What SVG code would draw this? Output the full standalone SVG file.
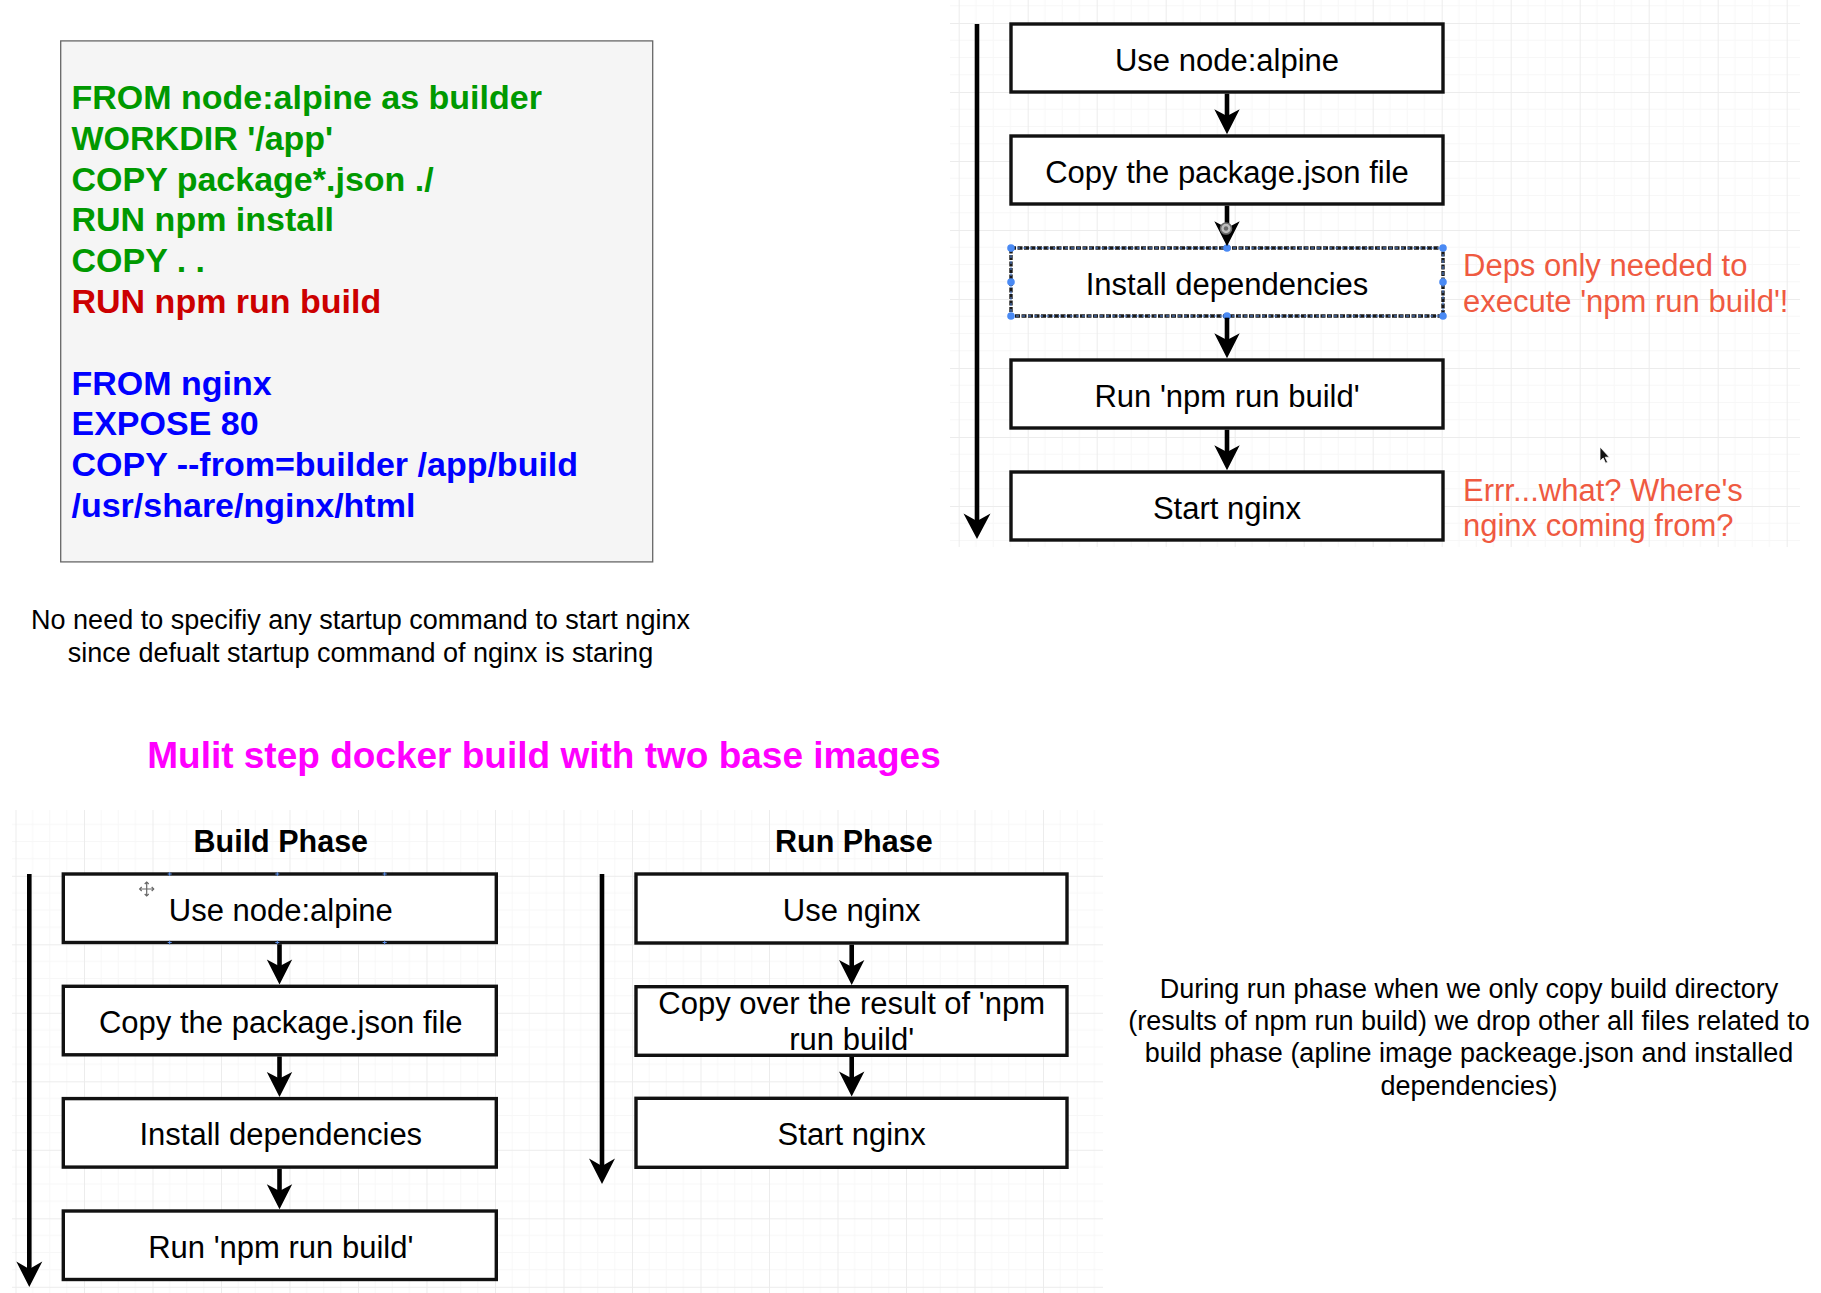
<svg xmlns="http://www.w3.org/2000/svg" width="1821" height="1293" viewBox="0 0 1821 1293">
<style>
  text { font-family: "Liberation Sans", Arial, Helvetica, sans-serif; }
  .code { font-size: 34px; font-weight: bold; }
  .g { fill: #009900; }
  .r { fill: #CC0000; }
  .b { fill: #0000FF; }
  .box { fill: #ffffff; stroke: #111111; stroke-width: 3.4; }
  .lbl { font-size: 31px; fill: #000000; text-anchor: middle; }
  .note { font-size: 31px; fill: #EF5A41; }
  .cap { font-size: 27px; fill: #000000; text-anchor: middle; }
  .phase { font-size: 30.5px; font-weight: bold; fill: #000000; text-anchor: middle; }
  .edge { stroke: #000000; stroke-width: 4.6; fill: none; }
  .tl { stroke: #000000; stroke-width: 4.6; fill: none; }
  .head { fill: #000000; stroke: none; }
  .handle { fill: #4A8AF4; stroke: none; }
  .pt { stroke: #5B8EE6; stroke-width: 1; }
</style>
<defs>
  <pattern id="gridA" patternUnits="userSpaceOnUse" x="61.7" y="23" width="69" height="69">
    <path d="M17.25 0V69M34.5 0V69M51.75 0V69M0 17.25H69M0 34.5H69M0 51.75H69" stroke="#f7f7f7" stroke-width="1"/>
    <path d="M0.5 0V69M0 0.5H69" stroke="#ececec" stroke-width="1"/>
  </pattern>
  <pattern id="gridB" patternUnits="userSpaceOnUse" x="15.5" y="53.8" width="68.5" height="68.5">
    <path d="M17.1 0V68.5M34.25 0V68.5M51.4 0V68.5M0 17.1H68.5M0 34.25H68.5M0 51.4H68.5" stroke="#f7f7f7" stroke-width="1"/>
    <path d="M0.5 0V68.5M0 0.5H68.5" stroke="#ececec" stroke-width="1"/>
  </pattern>
</defs>

<rect x="0" y="0" width="1821" height="1293" fill="#ffffff"/>
<rect id="grid-top" x="950" y="0" width="850" height="547" fill="url(#gridA)"/>
<rect id="grid-bottom" x="12" y="810" width="1091" height="483" fill="url(#gridB)"/>

<!-- Dockerfile code block -->
<g id="code-block">
  <rect x="60.7" y="40.9" width="592" height="521" fill="#f5f5f5" stroke="#666666" stroke-width="1.3"/>
  <text class="code g" x="71.5" y="109">FROM node:alpine as builder</text>
  <text class="code g" x="71.5" y="149.8">WORKDIR '/app'</text>
  <text class="code g" x="71.5" y="190.6">COPY package*.json ./</text>
  <text class="code g" x="71.5" y="231.4">RUN npm install</text>
  <text class="code g" x="71.5" y="272.2">COPY . .</text>
  <text class="code r" x="71.5" y="313">RUN npm run build</text>
  <text class="code b" x="71.5" y="394.6">FROM nginx</text>
  <text class="code b" x="71.5" y="435.4">EXPOSE 80</text>
  <text class="code b" x="71.5" y="476.2">COPY --from=builder /app/build</text>
  <text class="code b" x="71.5" y="517">/usr/share/nginx/html</text>
</g>

<g id="caption-startup">
  <text class="cap" x="360.5" y="629">No need to specifiy any startup command to start nginx</text>
  <text class="cap" x="360.5" y="662">since defualt startup command of nginx is staring</text>
</g>

<!-- Top-right flow -->
<g id="tr-node1"><rect class="box" x="1011" y="24" width="432" height="68"/><text class="lbl" x="1227" y="70.8">Use node:alpine</text></g>
<g id="tr-node2"><rect class="box" x="1011" y="136" width="432" height="68"/><text class="lbl" x="1227" y="182.8">Copy the package.json file</text></g>
<g id="tr-node3">
  <rect x="1011" y="248" width="432" height="68" fill="#ffffff" stroke="#1a1a1a" stroke-width="3.4" stroke-dasharray="5 1.5"/>
  <rect x="1011" y="248" width="432" height="68" fill="none" stroke="#5B8EE6" stroke-width="1" stroke-dasharray="3 3"/>
  <text class="lbl" x="1227" y="294.8">Install dependencies</text>
  <circle class="handle" cx="1011" cy="248" r="3.8"/><circle class="handle" cx="1227" cy="248" r="3.8"/><circle class="handle" cx="1443" cy="248" r="3.8"/>
  <circle class="handle" cx="1011" cy="282" r="3.8"/><circle class="handle" cx="1443" cy="282" r="3.8"/>
  <circle class="handle" cx="1011" cy="316" r="3.8"/><circle class="handle" cx="1227" cy="316" r="3.8"/><circle class="handle" cx="1443" cy="316" r="3.8"/>
</g>
<g id="tr-node4"><rect class="box" x="1011" y="360" width="432" height="68"/><text class="lbl" x="1227" y="406.8">Run 'npm run build'</text></g>
<g id="tr-node5"><rect class="box" x="1011" y="472" width="432" height="68"/><text class="lbl" x="1227" y="518.8">Start nginx</text></g>

<g id="tr-note1">
  <text class="note" x="1463" y="276">Deps only needed to</text>
  <text class="note" x="1463" y="311.7">execute 'npm run build'!</text>
</g>
<g id="tr-note2">
  <text class="note" x="1463" y="501">Errr...what? Where's</text>
  <text class="note" x="1463" y="536">nginx coming from?</text>
</g>

<!-- Title -->
<g id="title">
  <text x="544" y="768" font-size="37" font-weight="bold" fill="#FF00FF" text-anchor="middle">Mulit step docker build with two base images</text>
</g>

<!-- Build phase -->
<g id="build-phase-title"><text class="phase" x="280.8" y="852.3">Build Phase</text></g>
<g id="bp-node1">
  <rect class="box" x="63.3" y="874" width="433" height="68.5"/>
  <text class="lbl" x="280.8" y="920.7">Use node:alpine</text>
  <g class="pt">
    <path d="M169.7 872V876M171.7 874H167.7M277.3 872V876M279.3 874H275.3M384.7 872V876M386.7 874H382.7"/>
    <path d="M169.7 940.5V944.5M171.7 942.5H167.7M277.3 940.5V944.5M279.3 942.5H275.3M384.7 940.5V944.5M386.7 942.5H382.7"/>
  </g>
  <g stroke="#666" stroke-width="1.2" fill="none">
    <path d="M146.7 882V896M139.7 889H153.7"/>
    <path d="M144.7 884L146.7 882L148.7 884M144.7 894L146.7 896L148.7 894M141.7 887L139.7 889L141.7 891M151.7 887L153.7 889L151.7 891"/>
  </g>
</g>
<g id="bp-node2"><rect class="box" x="63.3" y="986.3" width="433" height="68.5"/><text class="lbl" x="280.8" y="1033">Copy the package.json file</text></g>
<g id="bp-node3"><rect class="box" x="63.3" y="1098.6" width="433" height="68.5"/><text class="lbl" x="280.8" y="1145.3">Install dependencies</text></g>
<g id="bp-node4"><rect class="box" x="63.3" y="1211" width="433" height="68.5"/><text class="lbl" x="280.8" y="1257.7">Run 'npm run build'</text></g>

<!-- Run phase -->
<g id="run-phase-title"><text class="phase" x="853.8" y="852.3">Run Phase</text></g>
<g id="rp-node1"><rect class="box" x="636" y="874" width="431" height="69"/><text class="lbl" x="851.7" y="920.8">Use nginx</text></g>
<g id="rp-node2"><rect class="box" x="636" y="986.7" width="431" height="68.6"/>
  <text class="lbl" x="851.7" y="1014.3">Copy over the result of 'npm</text>
  <text class="lbl" x="851.7" y="1050">run build'</text>
</g>
<g id="rp-node3"><rect class="box" x="636" y="1098.3" width="431" height="69"/><text class="lbl" x="851.7" y="1145">Start nginx</text></g>

<g id="run-phase-note">
  <text class="cap" x="1469" y="997.6">During run phase when we only copy build directory</text>
  <text class="cap" x="1469" y="1030">(results of npm run build) we drop other all files related to</text>
  <text class="cap" x="1469" y="1062.3">build phase (apline image packeage.json and installed</text>
  <text class="cap" x="1469" y="1094.6">dependencies)</text>
</g>

<!-- Connectors -->
<g id="connectors">
  <!-- top-right timeline -->
  <path class="tl" d="M977 24V524"/>
  <path class="head" d="M977 539L963.5 513.5L977 521L990.5 513.5Z"/>
  <!-- top-right edges -->
  <path class="edge" d="M1227 93.7V120"/>
  <path class="head" d="M1227 134.3L1214.3 109.3L1227 116L1239.7 109.3Z"/>
  <path class="edge" d="M1227 205.7V232"/>
  <path class="head" d="M1227 246.3L1214.3 221.3L1227 228L1239.7 221.3Z"/>
  <path class="edge" d="M1227 317.7V344"/>
  <path class="head" d="M1227 358.3L1214.3 333.3L1227 340L1239.7 333.3Z"/>
  <path class="edge" d="M1227 429.7V456"/>
  <path class="head" d="M1227 470.3L1214.3 445.3L1227 452L1239.7 445.3Z"/>
  <circle cx="1226" cy="228.5" r="5.5" fill="#bdbdbd" stroke="#6a6a6a" stroke-width="1.6"/>
  <circle cx="1226" cy="228.5" r="2.2" fill="#6a6a6a"/>

  <!-- build phase timeline -->
  <path class="tl" d="M29.3 874V1272"/>
  <path class="head" d="M29.3 1287L16.3 1261.5L29.3 1269L42.3 1261.5Z"/>
  <!-- build phase edges -->
  <path class="edge" d="M279.5 944.2V970"/>
  <path class="head" d="M279.5 984.6L266.8 959.6L279.5 966.3L292.2 959.6Z"/>
  <path class="edge" d="M279.5 1056.5V1082.5"/>
  <path class="head" d="M279.5 1096.9L266.8 1071.9L279.5 1078.6L292.2 1071.9Z"/>
  <path class="edge" d="M279.5 1168.8V1195"/>
  <path class="head" d="M279.5 1209.3L266.8 1184.3L279.5 1191L292.2 1184.3Z"/>

  <!-- run phase timeline -->
  <path class="tl" d="M602 874V1169"/>
  <path class="head" d="M602 1184L589 1158.5L602 1166L615 1158.5Z"/>
  <!-- run phase edges -->
  <path class="edge" d="M851.7 944.7V970.5"/>
  <path class="head" d="M851.7 985L839 960L851.7 966.7L864.4 960Z"/>
  <path class="edge" d="M851.7 1057V1082"/>
  <path class="head" d="M851.7 1096.6L839 1071.6L851.7 1078.3L864.4 1071.6Z"/>
</g>

<!-- mouse pointer -->
<g id="pointer">
  <path d="M1600 447V461L1603.2 458L1605.6 463.2L1607.6 462.3L1605.2 457.2L1609.4 457.2Z" fill="#111" stroke="#fff" stroke-width="0.8"/>
</g>
</svg>
